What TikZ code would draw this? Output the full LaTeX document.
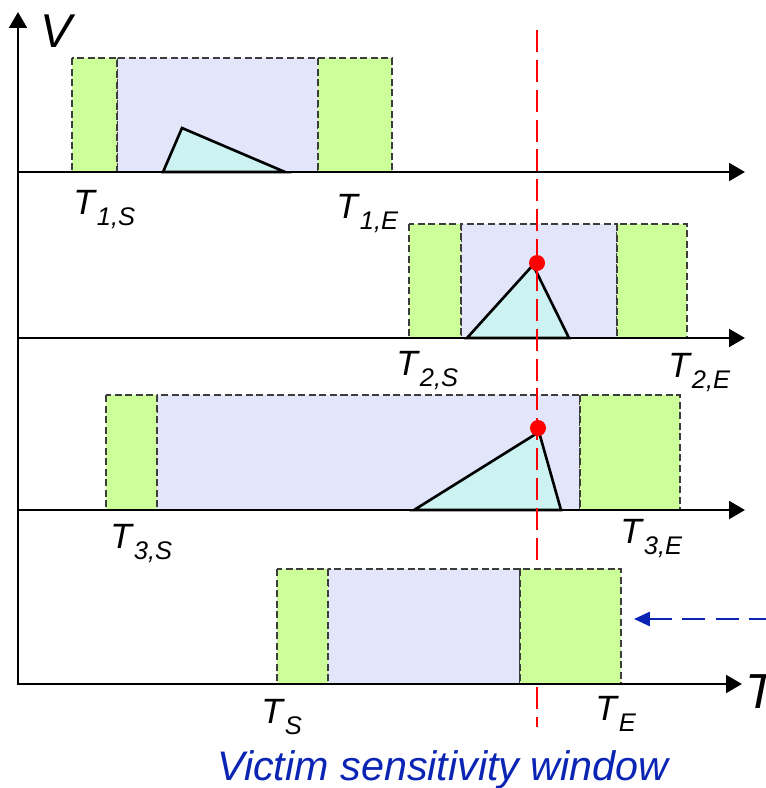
\documentclass[tikz,border=0pt]{standalone}
\usepackage{fontspec}
\setmainfont{Liberation Sans}
\usepackage{tikz}
\usetikzlibrary{arrows.meta}
\definecolor{vert}{RGB}{204,255,153}
\definecolor{lavande}{RGB}{227,230,250}
\definecolor{cyanp}{RGB}{204,242,242}
\definecolor{rouge}{RGB}{255,0,0}
\definecolor{bleuf}{RGB}{10,36,180}
\definecolor{bord}{RGB}{60,60,60}

% label T_{i,X}
\newcommand{\Tl}[1]{\textit{T}\raisebox{-0.32em}{\fontsize{14.5}{14.5}\selectfont\itshape #1}}

\tikzset{
	axe/.style={line width=1.6pt, -{Triangle[length=9pt,width=10pt]}},
	fen/.style={draw=bord, line width=0.6pt, dash pattern=on 4pt off 2pt},
	pointe/.style={draw=black, line width=1.5pt, fill=cyanp},
	lab/.style={anchor=base west, inner sep=0pt, font=\fontsize{20}{24}\selectfont},
}

\begin{document}
\begin{tikzpicture}[x=0.02cm, y=-0.02cm]
	\clip (0,0) rectangle (766,788);
	
	% fenetres des agresseurs 1..3
	\foreach \yt/\yb/\xa/\xb/\xc/\xd in {58/172/72/117/318/392, 224/338/409/461/617/687, 395/510/106/157/580/680} {
		\filldraw[fen, fill=lavande] (\xb,\yt) rectangle (\xc,\yb);
		\filldraw[fen, fill=vert] (\xa,\yt) rectangle (\xb,\yb);
		\filldraw[fen, fill=vert] (\xc,\yt) rectangle (\xd,\yb);
	}
	
	% transitions
	\draw[pointe] (163,172) -- (182,128) -- (285,172) -- cycle;
	\draw[pointe] (467,338) -- (533,265) -- (569,338) -- cycle;
	\draw[pointe] (414,510) -- (539,432) -- (561,510) -- cycle;
	
	% axes
	\foreach \yy in {172,338,510} {
		\draw[axe] (18,\yy) -- (745,\yy);
	}
	\draw[axe] (18,685) -- (18,12);
	
	% instant commun
	\draw[rouge, line width=1.5pt, dash pattern=on 12.5pt off 4.5pt] (537,30) -- (537,727);
	\fill[rouge] (537,263) circle (8);
	\fill[rouge] (538,428) circle (8);
	
	% fenetre victime
	\filldraw[fen, fill=lavande] (328,569) rectangle (520,684);
	\filldraw[fen, fill=vert] (277,569) rectangle (328,684);
	\filldraw[fen, fill=vert] (520,569) rectangle (621,684);
	\draw[axe] (18,684) -- (742,684);
	
	\coordinate (src) at (772,619);
	\coordinate (finE) at (634,619);
	\draw[bleuf, line width=1.3pt, dash pattern=on 13pt off 6pt,
	-{Triangle[length=9pt,width=8pt]}] (src) -- (finE);
	
	% etiquettes
	\node[lab, font=\fontsize{27}{30}\selectfont\itshape] (axeV) at (40,47) {V};
	\node[lab, font=\fontsize{28}{30}\selectfont\itshape] (axeT) at (745,708) {T};
	\node[lab] (t1s) at (73,214) {\Tl{1,S}};
	\node[lab] (t1e) at (336,218) {\Tl{1,E}};
	\node[lab] (t2s) at (396,375) {\Tl{2,S}};
	\node[lab] (t2e) at (668,377) {\Tl{2,E}};
	\node[lab] (t3s) at (110,548) {\Tl{3,S}};
	\node[lab] (t3e) at (620,543) {\Tl{3,E}};
	\node[lab] (ts) at (261,723) {\Tl{S}};
	\node[lab] (te) at (595,720) {\Tl{E}};
	\node[anchor=base, inner sep=0pt, text=bleuf, font=\fontsize{23.5}{26}\selectfont\itshape]
	(victime) at (443,780) {Victim sensitivity window};
\end{tikzpicture}
\end{document}
